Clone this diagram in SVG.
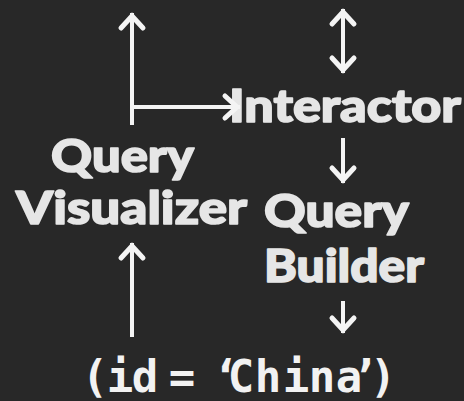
<svg xmlns="http://www.w3.org/2000/svg" width="464" height="401" viewBox="0 0 464 401">
  <defs>
    <!-- open chevron head, tip lands on the path end -->
    <marker id="chev" markerUnits="userSpaceOnUse" viewBox="-20 -16 36 32" markerWidth="36" markerHeight="32" refX="0" refY="0" orient="auto-start-reverse">
      <path d="M -15 -11 L -3 0 L -15 11" fill="none" stroke="#f4f4f4" stroke-width="5" stroke-linejoin="miter" stroke-linecap="round"/>
    </marker>
    <style>
      .bg { fill: #282828; }
      .label { font-family: Lato, "Open Sans", "DejaVu Sans", sans-serif; font-weight: 900; font-size: 46px; fill: #e6e6e6; stroke: #e6e6e6; stroke-width: 1.6; stroke-linejoin: round; }
      .code { font-family: "DejaVu Sans Mono", "Liberation Mono", monospace; font-weight: bold; font-size: 44px; fill: #f2f2f2; text-anchor: middle; }
      .edge { fill: none; stroke: #f4f4f4; stroke-width: 4; }
      .head { marker-end: url(#chev); }
      .both { marker-start: url(#chev); marker-end: url(#chev); }
    </style>
  </defs>

  <rect class="bg" x="0" y="0" width="464" height="401"/>

  <g id="query-visualizer">
    <text class="label" x="51" y="172" textLength="143" lengthAdjust="spacingAndGlyphs">Query</text>
    <text class="label" x="16" y="224" textLength="231" lengthAdjust="spacingAndGlyphs">Visualizer</text>
  </g>

  <g id="interactor">
    <text class="label" x="229" y="122" textLength="232" lengthAdjust="spacingAndGlyphs">Interactor</text>
  </g>

  <g id="query-builder">
    <text class="label" x="264" y="227" textLength="145" lengthAdjust="spacingAndGlyphs">Query</text>
    <text class="label" x="264" y="282" textLength="160" lengthAdjust="spacingAndGlyphs">Builder</text>
  </g>

  <g id="predicate">
    <text class="code" x="95 120 145 182 226 241 268 296 322 349 365 383" y="392">(id=‘China’)</text>
  </g>

  <g id="connectors">
    <path class="edge head" d="M 132 125 L 132 13"/>
    <path class="edge head" d="M 132 107 L 240 107"/>
    <path class="edge both" d="M 343 9 L 343 73"/>
    <path class="edge head" d="M 343 138 L 343 183"/>
    <path class="edge head" d="M 132 337 L 132 243"/>
    <path class="edge head" d="M 343 301 L 343 333"/>
  </g>
</svg>
